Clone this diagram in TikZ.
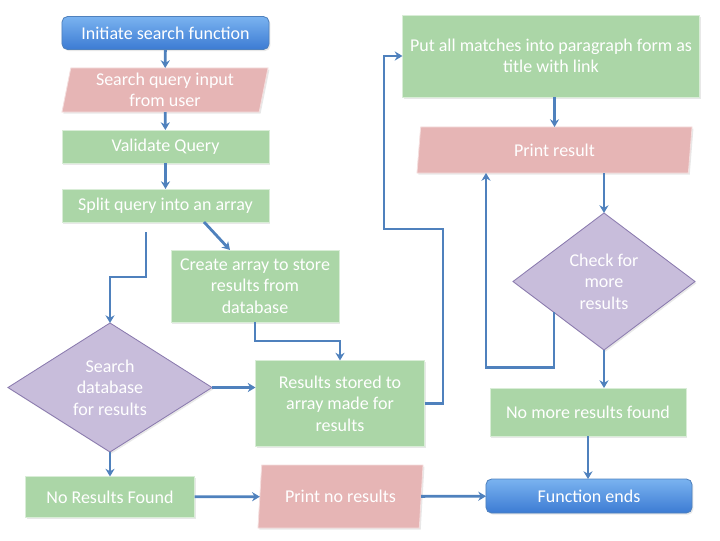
\documentclass[tikz,border=0pt]{standalone}
\usepackage{fontspec}
\setmainfont{Carlito}
\usetikzlibrary{arrows.meta, shapes.geometric, positioning, calc, shadows}

\definecolor{flowline}{HTML}{4F81BD}
\definecolor{greenfill}{HTML}{ABD6A7}
\definecolor{pinkfill}{HTML}{E6B5B5}
\definecolor{purplefill}{HTML}{C8BDDB}
\definecolor{purpleline}{HTML}{8A7AAE}
\definecolor{bluetop}{HTML}{7AB3F0}
\definecolor{bluebottom}{HTML}{3C7BD3}

\tikzset{
  basebox/.style={outer sep=0pt, inner sep=1pt, align=center, text=white,
    font=\fontsize{12.8}{15.2}\selectfont,
    drop shadow={shadow xshift=1pt, shadow yshift=-1.2pt, opacity=0.18}},
  procbox/.style={basebox, rectangle, fill=greenfill, draw=white!55!greenfill, line width=0.6pt},
  iobox/.style={basebox, trapezium, trapezium left angle=76.5, trapezium right angle=103.5,
    trapezium stretches body=true, fill=pinkfill, draw=white!55!pinkfill, line width=0.6pt},
  decbox/.style={basebox, diamond, inner sep=0pt, fill=purplefill, draw=purpleline, line width=0.6pt},
  termbox/.style={basebox, rectangle, rounded corners=4pt, top color=bluetop,
    bottom color=bluebottom, draw=flowline, line width=0.6pt},
  link/.style={->, draw=flowline, line width=2pt}
}

\begin{document}
\begin{tikzpicture}[x=0.025cm, y=-0.025cm, >={Stealth[length=5.5pt,width=6.5pt]}]
  \useasboundingbox (0,0) rectangle (720,540);

  % Left column
  \node[termbox, minimum width=5.175cm, minimum height=0.825cm] (init) at (165.5,33) {Initiate search function};
  \node[iobox, minimum width=5.15cm, minimum height=1.1cm] (query) at (165,90) {Search query input\\from user};
  \node[procbox, minimum width=5.175cm, minimum height=0.825cm] (validate) at (165.5,146.5) {Validate Query};
  \node[procbox, minimum width=5.175cm, minimum height=0.825cm] (split) at (165.5,205.5) {Split query into an array};
  \node[procbox, minimum width=4.2cm, minimum height=1.8cm] (create) at (255,286) {Create array to store\\results from\\database};
  \node[decbox, minimum width=5.1cm, minimum height=3.225cm] (search) at (110,387.5) {Search\\database\\for results};
  \node[procbox, minimum width=4.225cm, minimum height=2.15cm] (stored) at (340,403.5) {Results stored to\\array made for\\results};
  \node[procbox, minimum width=4.225cm, minimum height=1.025cm] (noresults) at (110,497) {No Results Found};
  \node[iobox, minimum width=4.125cm, minimum height=1.575cm] (printno) at (340.5,496.5) {Print no results};

  % Right column
  \node[procbox, minimum width=7.425cm, minimum height=2.05cm] (putall) at (551,56) {Put all matches into paragraph form as\\title with link};
  \node[iobox, minimum width=6.875cm, minimum height=1.15cm] (printres) at (554.5,150) {Print result};
  \node[decbox, minimum width=4.55cm, minimum height=3.425cm] (check) at (604,281.5) {Check for\\more\\results};
  \node[procbox, minimum width=4.9cm, minimum height=1.2cm] (nomore) at (588,412) {No more results found};
  \node[termbox, minimum width=5.15cm, minimum height=0.85cm] (ends) at (589,496) {Function ends};

  \coordinate (loose) at (146,232);

  % Edges
  \draw[link] (init) -- (query);
  \draw[link] (query) -- (validate);
  \draw[link] (validate) -- (split);
  \draw[link] ($(split.south)+(38.5,0)$) -- ($(create.north)+(-25,0)$);
  \draw[link] (loose) -- ++(0,45) -| (search.north);
  \draw[link] (create.south) -- ++(0,19) -| (stored.north);
  \draw[link] (search.east) -- (search.east -| stored.west);
  \draw[link] (search.south) -- (noresults.north);
  \draw[link] (noresults) -- (printno);
  \draw[link] (printno) -- (ends);
  \draw[link] (stored.east) -| (443,229) -| (384,56) -- (putall.west);
  \draw[link] (putall.south -| printres.north) -- (printres.north);
  \draw[link] (check.north |- printres.south) -- (check.north);
  \draw[link] ($(check.west)!0.45!(check.south)$) -- ++(0,55) -| ($(printres.south)+(-68.5,0)$);
  \draw[link] (check.south) -- (check.south |- nomore.north);
  \draw[link] (nomore.south) -- (nomore.south |- ends.north);
\end{tikzpicture}
\end{document}
